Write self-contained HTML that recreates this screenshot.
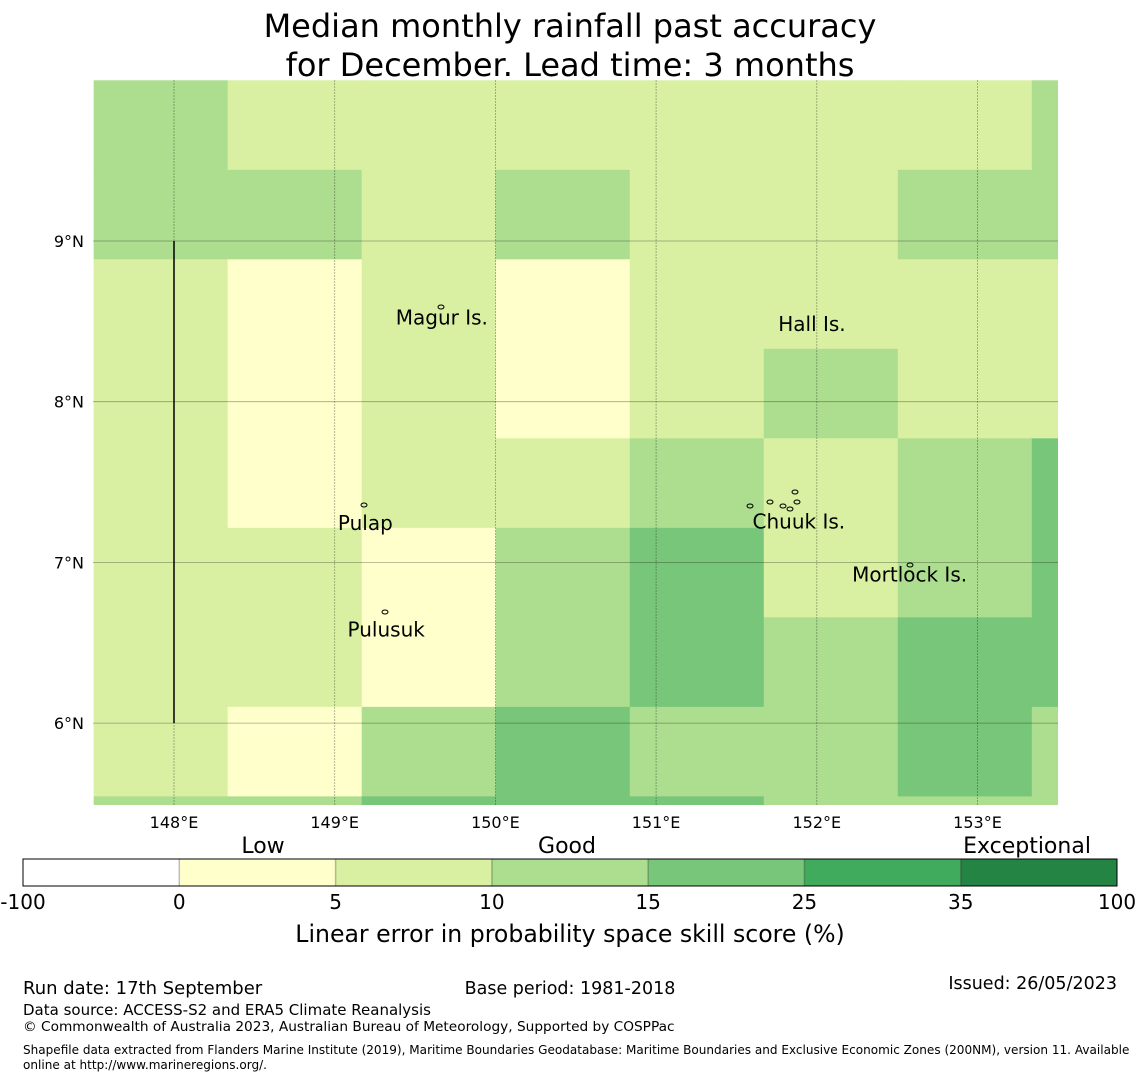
<!DOCTYPE html>
<html><head><meta charset="utf-8">
<style>
body{margin:0;background:#fff;width:1140px;height:1080px;overflow:hidden;font-family:"DejaVu Sans","Liberation Sans",sans-serif;}
svg text{font-family:"DejaVu Sans","Liberation Sans",sans-serif;}
</style></head>
<body>
<svg id="chart" width="1140" height="1080" xmlns="http://www.w3.org/2000/svg">
<text x="570" y="37" font-size="32" text-anchor="middle">Median monthly rainfall past accuracy</text>
<text x="570" y="76" font-size="32" text-anchor="middle">for December. Lead time: 3 months</text>
<g id="map"></g>
<g id="cbar"></g>
<text x="570" y="942" font-size="23.6" text-anchor="middle">Linear error in probability space skill score (%)</text>
<text x="23" y="994" font-size="18">Run date: 17th September</text>
<text x="570" y="994" font-size="17.5" text-anchor="middle">Base period: 1981-2018</text>
<text x="1117" y="989" font-size="17.5" text-anchor="end">Issued: 26/05/2023</text>
<text x="23" y="1015" font-size="15">Data source: ACCESS-S2 and ERA5 Climate Reanalysis</text>
<text x="23" y="1031" font-size="13.7">© Commonwealth of Australia 2023, Australian Bureau of Meteorology, Supported by COSPPac</text>
<text x="23" y="1054" font-size="12.05">Shapefile data extracted from Flanders Marine Institute (2019), Maritime Boundaries Geodatabase: Maritime Boundaries and Exclusive Economic Zones (200NM), version 11. Available</text>
<text x="23" y="1069" font-size="12.05">online at http://www.marineregions.org/.</text>
</svg>
<script>
const lonTicks=[148,149,150,151,152,153];
const latTicks=[9,8,7,6];
const bounds=[-100,0,5,10,15,25,35,100];
const boundLabels=["-100","0","5","10","15","25","35","100"];
const colors=["#ffffff","#ffffcc","#d9f0a3","#addd8e","#78c679","#41ab5d","#238443"];
// grid values (%) rows top->bottom, cols left->right
const row0=[12,7,7,7,7,7,7,12];
const row1=[12,12,7,12,7,7,12,12];
const row2=[7,3,7,3,7,7,7,7];
const row3=[7,3,7,3,7,12,7,7];
const row4=[7,3,7,7,12,7,12,20];
const row5=[7,7,3,12,20,7,12,20];
const row6=[7,7,3,12,20,12,20,20];
const row7=[7,3,12,20,12,12,20,12];
const row8=[12,12,20,20,20,12,12,12];
const grid=[row0,row1,row2,row3,row4,row5,row6,row7,row8];
const cellLon0=147.5, cellDLon=0.834;
const cellLat0=10.0, cellDLat=0.557;
const islandNames=["Magur Is.","Hall Is.","Pulap","Chuuk Is.","Mortlock Is.","Pulusuk"];
const islandLon=[149.38,151.76,149.02,151.6,152.22,149.08];
const islandLat=[8.53,8.49,7.25,7.26,6.93,6.59];

const L=93,R=1058,T=80,B=805;
const xS=lon=>174+(lon-148)*160.7;
const yS=lat=>241-(lat-9)*160.7;
const NS="http://www.w3.org/2000/svg";
function mk(tag,attrs,parent){const e=document.createElementNS(NS,tag);for(const k in attrs)e.setAttribute(k,attrs[k]);parent.appendChild(e);return e;}
function colorOf(v){for(let i=0;i<bounds.length-1;i++){if(v>=bounds[i]&&v<bounds[i+1])return colors[i];}return colors[colors.length-1];}
const map=document.getElementById('map');
const defs=mk('defs',{},map);
const cp=mk('clipPath',{id:'clip'},defs);
mk('rect',{x:L,y:T,width:R-L,height:B-T},cp);
const cells=mk('g',{'clip-path':'url(#clip)'},map);
grid.forEach((row,r)=>row.forEach((v,c)=>{
  const x0=xS(cellLon0+c*cellDLon),x1=xS(cellLon0+(c+1)*cellDLon);
  const y0=yS(cellLat0-r*cellDLat),y1=yS(cellLat0-(r+1)*cellDLat);
  const e=mk('rect',{x:x0,y:y0,width:x1-x0+0.5,height:y1-y0+0.5,fill:colorOf(v)},cells);
  
  
}));
lonTicks.forEach(l=>{
  const x=xS(l);
  const g=mk('line',{x1:x,y1:T,x2:x,y2:B,stroke:'#000','stroke-opacity':0.35,'stroke-width':0.8,'stroke-dasharray':'2,1'},map);
  
  
  const t=mk('text',{x:x,y:828,'font-size':16,'text-anchor':'middle'},map);
  t.textContent=l+'°E';
  
  
});
latTicks.forEach(l=>{
  const y=yS(l);
  const g=mk('line',{x1:L,y1:y,x2:R,y2:y,stroke:'#000','stroke-opacity':0.35,'stroke-width':0.8},map);
  
  
  const t=mk('text',{x:84,y:y+6,'font-size':16,'text-anchor':'end'},map);
  t.textContent=l+'°N';
  
  
});
const bl=mk('line',{x1:xS(148),y1:yS(9),x2:xS(148),y2:yS(6),stroke:'#000','stroke-width':1.5},map);


islandNames.forEach((n,i)=>{
  const t=mk('text',{x:xS(islandLon[i]),y:yS(islandLat[i])+8,'font-size':20},map);
  t.textContent=n;
  
  
});
[[441,307],[364,505],[385,612],[750,506],[770,502],[783,506],[795,492],[797,502],[790,509],[910,565]].forEach(p=>{
  const e=mk('ellipse',{cx:p[0],cy:p[1],rx:3,ry:2,fill:'none',stroke:'#000','stroke-width':1},map);
  
  
});
// colorbar
const cb=document.getElementById('cbar');
const cx0=23,cx1=1117,cy=859,ch=27,n=colors.length,w=(cx1-cx0)/n;
colors.forEach((c,i)=>{
  const r=mk('rect',{x:cx0+i*w,y:cy,width:w,height:ch,fill:c},cb);
  
  
  if(i>0){mk('line',{x1:cx0+i*w,y1:cy,x2:cx0+i*w,y2:cy+ch,stroke:'#000','stroke-opacity':0.25,'stroke-width':1.5},cb);}
});
mk('rect',{x:cx0,y:cy,width:cx1-cx0,height:ch,fill:'none',stroke:'#000','stroke-width':1},cb);
boundLabels.forEach((b,i)=>{
  const t=mk('text',{x:cx0+i*w,y:909,'font-size':20,'text-anchor':'middle'},cb);
  t.textContent=b;
  
  
});
[["Low",263],["Good",567],["Exceptional",1027]].forEach(a=>{
  const t=mk('text',{x:a[1],y:853,'font-size':22,'text-anchor':'middle'},cb);
  t.textContent=a[0];
  
  
});
</script>
</body></html>
